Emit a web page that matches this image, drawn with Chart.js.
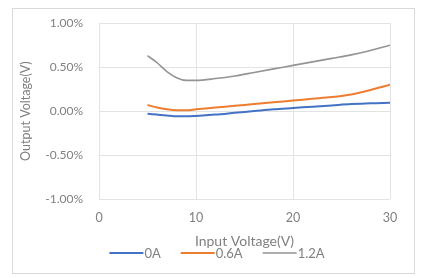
<!DOCTYPE html>
<html>
<head>
<meta charset="utf-8">
<script src="https://cdn.jsdelivr.net/npm/chart.js@4/dist/chart.umd.min.js"></script>
<style>
  html, body { margin: 0; padding: 0; background: #ffffff; }
  #wrap { position: relative; width: 421px; height: 278px; }
  #frame { position: absolute; left: 12px; top: 8px; width: 403px; height: 266px; border: 1px solid #d9d9d9; box-sizing: border-box; pointer-events: none; }
  canvas { position: absolute; left: 0; top: 0; }
</style>
</head>
<body>
<div id="wrap">
  <canvas id="c" width="421" height="278"></canvas>
  <div id="frame"></div>
</div>
<script>
const inputVoltage = [5, 6, 7, 8, 9, 10, 12, 14, 16, 18, 20, 22, 24, 26, 28, 30];
const out0A   = [-0.03, -0.04, -0.05, -0.06, -0.06, -0.055, -0.04, -0.02, 0.00, 0.02, 0.035, 0.05, 0.065, 0.08, 0.09, 0.095];
const out06A  = [0.07, 0.04, 0.02, 0.01, 0.01, 0.02, 0.04, 0.06, 0.08, 0.10, 0.12, 0.14, 0.16, 0.19, 0.24, 0.30];
const out12A  = [0.63, 0.55, 0.45, 0.38, 0.35, 0.35, 0.37, 0.40, 0.44, 0.48, 0.52, 0.56, 0.60, 0.64, 0.69, 0.75];
const seriesLabels = ['0A', '0.6A', '1.2A'];
const xTicks = [0, 10, 20, 30];
const yTicks = [-1, -0.5, 0, 0.5, 1];
const xTitle = 'Input Voltage(V)';
const yTitle = 'Output Voltage(V)';

const colors = ['#4472C4', '#ED7D31', '#949494'];
const widths = [2, 2, 1.6];
const FONT = 'Lato, "Open Sans", sans-serif';
const TEXT = '#808080';

const toPts = arr => inputVoltage.map((x, i) => ({ x: x, y: arr[i] }));
const allSeries = [out0A, out06A, out12A];

const legendPlugin = {
  id: 'customLegend',
  afterDraw(chart) {
    const ctx = chart.ctx;
    ctx.save();
    ctx.font = '13px ' + FONT;
    ctx.textBaseline = 'middle';
    ctx.fillStyle = TEXT;
    const lineLen = 34, gapText = 1, gapItem = 20, y = 253;
    const items = chart.data.datasets.map(d => ({ label: d.label, color: d.borderColor, w: d.borderWidth }));
    let total = 0;
    items.forEach((it, i) => { total += lineLen + gapText + ctx.measureText(it.label).width + (i < items.length - 1 ? gapItem : 0); });
    let x = 217 - total / 2;
    items.forEach(it => {
      ctx.strokeStyle = it.color;
      ctx.lineWidth = it.w;
      ctx.beginPath();
      ctx.moveTo(x, y);
      ctx.lineTo(x + lineLen, y);
      ctx.stroke();
      x += lineLen + gapText;
      ctx.fillText(it.label, x, y + 0.5);
      x += ctx.measureText(it.label).width + gapItem;
    });
    ctx.restore();
  }
};

new Chart(document.getElementById('c'), {
  type: 'scatter',
  data: {
    datasets: allSeries.map((s, i) => ({
      label: seriesLabels[i],
      data: toPts(s),
      showLine: true,
      borderColor: colors[i],
      backgroundColor: colors[i],
      borderWidth: widths[i],
      pointRadius: 0,
      tension: 0.4,
      cubicInterpolationMode: 'monotone'
    }))
  },
  options: {
    responsive: false,
    animation: false,
    devicePixelRatio: 1,
    layout: { padding: { left: 0, right: 31, top: 21, bottom: 0 } },
    plugins: { legend: { display: false }, tooltip: { enabled: false } },
    scales: {
      x: {
        type: 'linear',
        min: 0, max: 30,
        afterBuildTicks: s => { s.ticks = xTicks.map(v => ({ value: v })); },
        afterFit: s => { s.height = 79; },
        grid: { color: '#e3e3e3', lineWidth: 1, drawTicks: false },
        border: { display: false },
        ticks: { padding: 11, color: TEXT, font: { family: FONT, size: 12.5 }, maxRotation: 0 },
        title: { display: true, text: xTitle, color: TEXT, font: { family: FONT, size: 14 }, padding: { top: 0, bottom: 28 } }
      },
      y: {
        type: 'linear',
        min: -1, max: 1,
        afterBuildTicks: s => { s.ticks = yTicks.map(v => ({ value: v })); },
        afterFit: s => { s.width = 99; },
        grid: { color: '#e3e3e3', lineWidth: 1, drawTicks: false },
        border: { display: false },
        ticks: { padding: 16, color: TEXT, font: { family: FONT, size: 12 }, callback: v => v.toFixed(2) + '%' },
        title: { display: true, text: yTitle, color: TEXT, font: { family: FONT, size: 12.5 }, padding: { top: 18, bottom: 0 } }
      }
    }
  },
  plugins: [legendPlugin]
});
</script>
</body>
</html>
